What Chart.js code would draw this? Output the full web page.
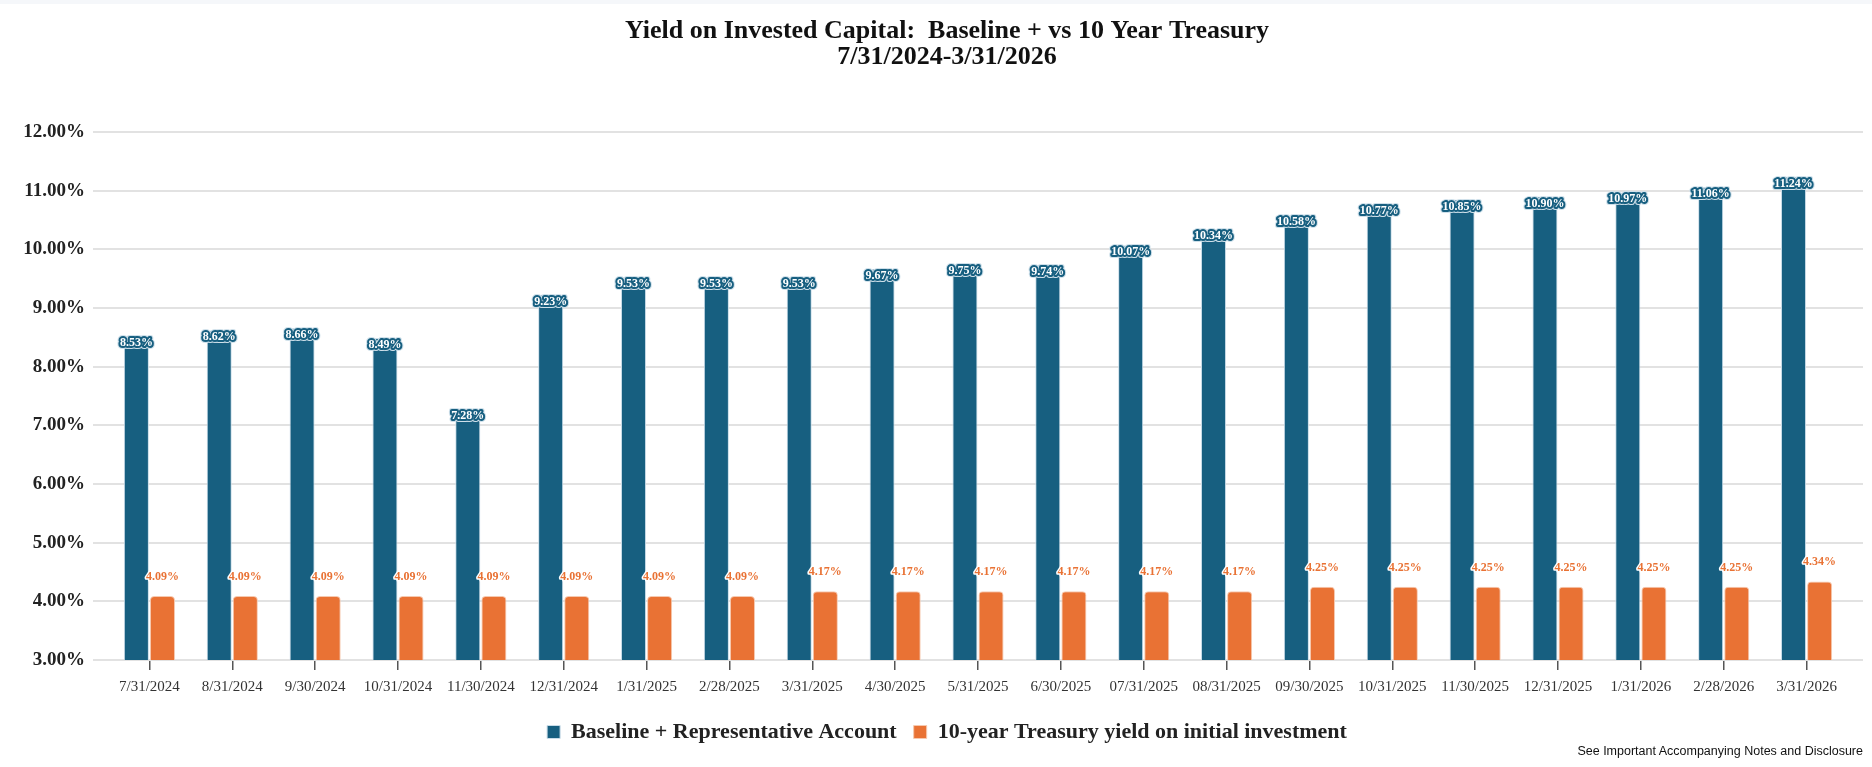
<!DOCTYPE html>
<html>
<head>
<meta charset="utf-8">
<script src="https://cdn.jsdelivr.net/npm/chart.js@4.4.1/dist/chart.umd.min.js"></script>
<style>
  html, body { margin: 0; padding: 0; background: #fff; }
  .wrap { position: relative; width: 1872px; height: 767px; }
  .topbar { position: absolute; left: 0; top: 0; width: 1872px; height: 4px; background: #f5f7fa; }
  .note { position: absolute; right: 9px; top: 744px; font: 12.5px "Liberation Sans", Arial, sans-serif; color: #111; }
</style>
</head>
<body>
<div class="wrap">
  <canvas id="yoc-chart" width="1872" height="767"></canvas>
  <div class="topbar"></div>
  <div class="note">See Important Accompanying Notes and Disclosure</div>
</div>
<script>
// month ends shown on the x axis
const dates = ['7/31/2024', '8/31/2024', '9/30/2024', '10/31/2024', '11/30/2024', '12/31/2024',
    '1/31/2025', '2/28/2025', '3/31/2025', '4/30/2025', '5/31/2025', '6/30/2025',
    '07/31/2025', '08/31/2025', '09/30/2025', '10/31/2025', '11/30/2025', '12/31/2025',
    '1/31/2026', '2/28/2026', '3/31/2026'];

// yield on invested capital, %
const baselineYield = [8.53, 8.62, 8.66, 8.49, 7.28, 9.23, 9.53, 9.53, 9.53, 9.67, 9.75, 9.74,
    10.07, 10.34, 10.58, 10.77, 10.85, 10.90, 10.97, 11.06, 11.24];
const treasuryYield = [4.09, 4.09, 4.09, 4.09, 4.09, 4.09, 4.09, 4.09, 4.17, 4.17, 4.17, 4.17,
    4.17, 4.17, 4.25, 4.25, 4.25, 4.25, 4.25, 4.25, 4.34];

const seriesNames = ['Baseline + Representative Account', '10-year Treasury yield on initial investment'];
const blue = '#175f80';
const orange = '#e97234';
const serif = "'Liberation Serif', 'Times New Roman', serif";

// horizontal grid, a bit wider than the plot like the original
const wideGrid = {
    id: 'wideGrid',
    beforeDatasetsDraw(chart) {
        const ctx = chart.ctx;
        const y = chart.scales.y;
        const area = chart.chartArea;
        ctx.save();
        ctx.strokeStyle = '#e2e2e2';
        ctx.lineWidth = 2;
        y.ticks.forEach(t => {
            const py = Math.round(y.getPixelForValue(t.value));
            ctx.beginPath();
            ctx.moveTo(area.left - 15, py);
            ctx.lineTo(area.right + 15, py);
            ctx.stroke();
        });
        ctx.restore();
    }
};

// value labels on top of the bars
const barLabels = {
    id: 'barLabels',
    afterDatasetsDraw(chart) {
        const ctx = chart.ctx;
        ctx.save();
        ctx.font = 'bold 12px ' + serif;
        ctx.textAlign = 'center';
        ctx.textBaseline = 'middle';
        ctx.lineJoin = 'round';
        chart.data.datasets.forEach((ds, i) => {
            const meta = chart.getDatasetMeta(i);
            meta.data.forEach((bar, j) => {
                const txt = ds.data[j].toFixed(2) + '%';
                if (i === 0) {
                    const ty = bar.y + 7;
                    ctx.strokeStyle = '#cfe0ea';
                    ctx.lineWidth = 6;
                    ctx.strokeText(txt, bar.x, ty);
                    ctx.strokeStyle = blue;
                    ctx.lineWidth = 4;
                    ctx.strokeText(txt, bar.x, ty);
                    ctx.fillStyle = '#ffffff';
                    ctx.fillText(txt, bar.x, ty);
                } else {
                    const ty = bar.y - 19;
                    ctx.strokeStyle = '#ffffff';
                    ctx.lineWidth = 3;
                    ctx.strokeText(txt, bar.x, ty);
                    ctx.fillStyle = orange;
                    ctx.fillText(txt, bar.x, ty);
                }
            });
        });
        ctx.restore();
    }
};

const ctx = document.getElementById('yoc-chart').getContext('2d');
const yocChart = new Chart(ctx, {
    type: 'bar',
    data: {
        labels: dates,
        datasets: [{
            label: seriesNames[0],
            data: baselineYield,
            backgroundColor: blue,
            borderColor: '#c9dce8',
            borderWidth: 1,
            borderRadius: { topLeft: 4, topRight: 4 },
            borderSkipped: 'bottom'
        }, {
            label: seriesNames[1],
            data: treasuryYield,
            backgroundColor: orange,
            borderColor: '#f6c9b0',
            borderWidth: 1,
            borderRadius: { topLeft: 4, topRight: 4 },
            borderSkipped: 'bottom'
        }]
    },
    options: {
        responsive: false,
        animation: false,
        categoryPercentage: 0.63,
        barPercentage: 0.96,
        layout: { padding: { left: 22, right: 0, top: 0, bottom: 14 } },
        plugins: {
            title: {
                display: true,
                text: ['Yield on Invested Capital:  Baseline + vs 10 Year Treasury', '7/31/2024-3/31/2026'],
                color: '#111',
                font: { family: serif, size: 26, weight: 'bold', lineHeight: 0.98 },
                padding: { top: 19, bottom: 62 }
            },
            legend: {
                position: 'bottom',
                labels: {
                    color: '#222',
                    font: { family: serif, size: 22, weight: 'bold' },
                    boxWidth: 13,
                    boxHeight: 13,
                    padding: 17
                }
            },
            tooltip: { enabled: false }
        },
        scales: {
            x: {
                grid: { drawOnChartArea: false, drawTicks: true, tickLength: 10, color: '#555', offset: false, lineWidth: 1.5 },
                border: { display: false },
                ticks: { color: '#333', font: { family: serif, size: 15 }, padding: 8, maxRotation: 0, autoSkip: false }
            },
            y: {
                min: 3,
                max: 12,
                grid: { display: false, drawTicks: false },
                border: { display: false },
                afterFit(scale) { scale.width = 86; },
                ticks: {
                    stepSize: 1,
                    color: '#222',
                    padding: 23,
                    font: { family: serif, size: 19, weight: 'bold' },
                    callback: v => v.toFixed(2) + '%'
                }
            },
            // empty strip on the right so the plot ends where the original does
            yRight: {
                position: 'right',
                grid: { display: false, drawTicks: false },
                border: { display: false },
                ticks: { display: false },
                afterFit(scale) { scale.width = 24; }
            }
        }
    },
    plugins: [wideGrid, barLabels]
});
</script>
</body>
</html>
